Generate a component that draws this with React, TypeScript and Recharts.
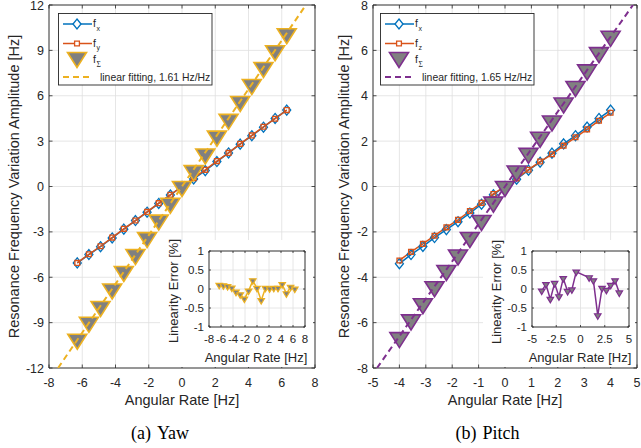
import React from "react";
import {
  CartesianGrid,
  ComposedChart,
  Line,
  LineChart,
  ReferenceArea,
  XAxis,
  YAxis,
} from "recharts";

// ---- (a) Yaw ----
const yawRate = [-6.3, -5.6, -4.9, -4.2, -3.5, -2.8, -2.1, -1.4, -0.7, 0, 0.7, 1.4, 2.1, 2.8, 3.5, 4.2, 4.9, 5.6, 6.3];
const yawFx = [-5.05, -4.5, -3.98, -3.4, -2.82, -2.25, -1.7, -1.12, -0.56, 0.0, 0.5, 1.05, 1.65, 2.22, 2.8, 3.36, 3.92, 4.5, 5.05];
const yawFy = [-5.05, -4.48, -3.95, -3.38, -2.8, -2.25, -1.68, -1.1, -0.55, 0.0, 0.55, 1.1, 1.68, 2.22, 2.82, 3.38, 3.95, 4.48, 5.05];
const yawFsum = [-10.1, -8.98, -7.93, -6.78, -5.62, -4.5, -3.38, -2.22, -1.11, 0.0, 1.05, 2.15, 3.33, 4.44, 5.62, 6.74, 7.87, 8.98, 10.1];
const yawSlope = 1.61;
const yawErr = [0.1, 0.09, 0.07, 0.03, -0.08, -0.15, -0.26, -0.05, 0.22, 0.02, -0.3, 0.02, 0.01, 0.02, 0.02, 0.12, -0.12, 0.05, 0.0];

// ---- (b) Pitch ----
const pitchRate = [-4, -3.56, -3.11, -2.67, -2.22, -1.78, -1.33, -0.89, -0.44, 0, 0.44, 0.89, 1.33, 1.78, 2.22, 2.67, 3.11, 3.56, 4];
const pitchFx = [-3.4, -3.0, -2.64, -2.25, -1.9, -1.55, -1.17, -0.78, -0.36, 0.0, 0.32, 0.72, 1.07, 1.47, 1.88, 2.24, 2.62, 3.0, 3.37];
const pitchFz = [-3.26, -2.88, -2.53, -2.17, -1.8, -1.47, -1.08, -0.72, -0.33, 0.0, 0.36, 0.74, 1.1, 1.42, 1.8, 2.17, 2.52, 2.9, 3.25];
const pitchFsum = [-6.66, -5.88, -5.17, -4.42, -3.7, -3.02, -2.25, -1.5, -0.69, 0.0, 0.68, 1.46, 2.17, 2.89, 3.68, 4.41, 5.14, 5.9, 6.62];
const pitchSlope = 1.65;
const pitchErrRate = [-4, -3.56, -3.11, -2.67, -2.22, -1.78, -1.33, -0.89, -0.44, 0.89, 1.33, 1.78, 2.22, 2.67, 3.11, 3.56, 4];
const pitchErr = [-0.05, 0.12, -0.27, 0.15, -0.2, 0.28, -0.06, -0.02, 0.45, 0.3, 0.22, -0.7, 0.02, -0.03, 0.1, 0.22, -0.1];

// ---- ticks ----
const yawXTicks = [-8, -6, -4, -2, 0, 2, 4, 6, 8];
const yawYTicks = [-12, -9, -6, -3, 0, 3, 6, 9, 12];
const pitchXTicks = [-5, -4, -3, -2, -1, 0, 1, 2, 3, 4, 5];
const pitchYTicks = [-8, -6, -4, -2, 0, 2, 4, 6, 8];
const insetYawXTicks = [-8, -6, -4, -2, 0, 2, 4, 6, 8];
const insetPitchXTicks = [-5, -2.5, 0, 2.5, 5];
const insetYTicks = [-1, -0.5, 0, 0.5, 1];

const BLUE = "#0072BD";
const ORANGE = "#D95319";
const YELLOW = "#EDB120";
const PURPLE = "#7E2F8E";
const GREY = "#808080";
const INK = "#262626";
const GRID = "#e0e0e0";
const SANS = '"Liberation Sans", Arial, Helvetica, sans-serif';
const SERIF = '"Liberation Serif", "Times New Roman", serif';

type Frame = { left: number; right: number; top: number; bottom: number };

// marker shapes
const diamondPath = (cx: number, cy: number, w = 4, h = 5) =>
  `M${cx},${cy - h}L${cx + w},${cy}L${cx},${cy + h}L${cx - w},${cy}Z`;
const squarePath = (cx: number, cy: number, r = 2.4) =>
  `M${cx - r},${cy - r}H${cx + r}V${cy + r}H${cx - r}Z`;
// downward triangle, centroid on the point
const triPath = (cx: number, cy: number, w: number, h: number) =>
  `M${cx - w / 2},${cy - h / 3}L${cx + w / 2},${cy - h / 3}L${cx},${cy + (2 * h) / 3}Z`;

const ok = (p: any) => p.cx != null && p.cy != null && !isNaN(p.cx) && !isNaN(p.cy) && p.value != null;

const diamondDot = (p: any) =>
  ok(p) ? (
    <path key={p.index} d={diamondPath(p.cx, p.cy)} fill="none" stroke={BLUE} strokeWidth={1.3} />
  ) : (
    <g key={p.index} />
  );
const squareDot = (p: any) =>
  ok(p) ? (
    <path key={p.index} d={squarePath(p.cx, p.cy)} fill="none" stroke={ORANGE} strokeWidth={1.3} />
  ) : (
    <g key={p.index} />
  );
const bigTri = (edge: string) => (p: any) =>
  ok(p) ? (
    <path key={p.index} d={triPath(p.cx, p.cy, 19, 15)} fill={GREY} stroke={edge} strokeWidth={1.6} />
  ) : (
    <g key={p.index} />
  );
const smallTri = (edge: string) => (p: any) =>
  ok(p) ? (
    <path key={p.index} d={triPath(p.cx, p.cy, 6.5, 5.5)} fill={GREY} stroke={edge} strokeWidth={1.2} />
  ) : (
    <g key={p.index} />
  );

// MATLAB-style ticks: labels outside, short tick marks inside on both sides
const xTick = (f: Frame, size: number, gap: number, len: number) => (p: any) => (
  <g>
    <line x1={p.x} x2={p.x} y1={f.bottom} y2={f.bottom - len} stroke={INK} strokeWidth={0.8} />
    <line x1={p.x} x2={p.x} y1={f.top} y2={f.top + len} stroke={INK} strokeWidth={0.8} />
    <text x={p.x} y={f.bottom + gap} textAnchor="middle" fontSize={size} fontFamily={SANS} fill={INK}>
      {p.payload.value}
    </text>
  </g>
);
const yTick = (f: Frame, size: number, gap: number, len: number) => (p: any) => (
  <g>
    <line x1={f.left} x2={f.left + len} y1={p.y} y2={p.y} stroke={INK} strokeWidth={0.8} />
    <line x1={f.right} x2={f.right - len} y1={p.y} y2={p.y} stroke={INK} strokeWidth={0.8} />
    <text x={f.left - gap} y={p.y} dy="0.36em" textAnchor="end" fontSize={size} fontFamily={SANS} fill={INK}>
      {p.payload.value}
    </text>
  </g>
);

const CHART_H = 410;
const PLOT_TOP = 5;
const PLOT_BOTTOM = 368;
const AXIS_W = 49;

type MainProps = {
  left: number;
  width: number;
  marginRight: number;
  rate: number[];
  f1: number[];
  f2: number[];
  fsum: number[];
  slope: number;
  xTicks: number[];
  yTicks: number[];
  edge: string;
};

function MainPanel({ left, width, marginRight, rate, f1, f2, fsum, slope, xTicks, yTicks, edge }: MainProps) {
  const frame = { left: AXIS_W, right: width - marginRight, top: PLOT_TOP, bottom: PLOT_BOTTOM };
  const xd = [xTicks[0], xTicks[xTicks.length - 1]];
  const yd = [yTicks[0], yTicks[yTicks.length - 1]];
  const rows = rate.map((x, i) => ({ x, a: f1[i], b: f2[i], s: fsum[i] }));
  // fitted line across the full y range, drawn in its own layer so it sits above the markers
  const fitRows = [
    { x: yd[0] / slope, fit: yd[0] },
    { x: yd[1] / slope, fit: yd[1] },
  ];
  return (
    <div style={{ position: "absolute", left, top: 0, width, height: CHART_H }}>
      <ComposedChart width={width} height={CHART_H} data={rows} margin={{ top: PLOT_TOP, right: marginRight, bottom: 0, left: 0 }}>
        <CartesianGrid stroke={GRID} strokeWidth={0.8} />
        <XAxis
          dataKey="x"
          type="number"
          domain={xd}
          ticks={xTicks}
          interval={0}
          allowDataOverflow
          height={CHART_H - PLOT_BOTTOM}
          tickSize={0}
          tickLine={false}
          axisLine={false}
          tick={xTick(frame, 12.5, 18.5, 3.5)}
        />
        <YAxis
          type="number"
          domain={yd}
          ticks={yTicks}
          interval={0}
          allowDataOverflow
          width={AXIS_W}
          tickSize={0}
          tickLine={false}
          axisLine={false}
          tick={yTick(frame, 12.5, 5, 3.5)}
        />
        <ReferenceArea x1={xd[0]} x2={xd[1]} y1={yd[0]} y2={yd[1]} fill="none" fillOpacity={0} stroke={INK} strokeWidth={0.9} />
        <Line dataKey="a" stroke={BLUE} strokeWidth={1.5} dot={diamondDot} activeDot={false} isAnimationActive={false} />
        <Line dataKey="b" stroke={ORANGE} strokeWidth={1.5} dot={squareDot} activeDot={false} isAnimationActive={false} />
        <Line dataKey="s" stroke="none" dot={bigTri(edge)} activeDot={false} isAnimationActive={false} />
      </ComposedChart>
      <div style={{ position: "absolute", left: 0, top: 0 }}>
        <ComposedChart
          width={width}
          height={CHART_H}
          data={fitRows}
          margin={{ top: PLOT_TOP, right: marginRight, bottom: CHART_H - PLOT_BOTTOM, left: AXIS_W }}
        >
          <XAxis dataKey="x" type="number" domain={xd} allowDataOverflow hide />
          <YAxis type="number" domain={yd} allowDataOverflow hide />
          <Line
            dataKey="fit"
            stroke={edge}
            strokeWidth={2}
            strokeDasharray="6 4"
            dot={false}
            activeDot={false}
            isAnimationActive={false}
          />
        </ComposedChart>
      </div>
    </div>
  );
}

const INSET_TOP = 240;
const INSET_H = 127;
const INSET_PLOT_TOP = 11;
const INSET_PLOT_BOTTOM = 87;

type InsetProps = {
  left: number;
  width: number;
  marginRight: number;
  rate: number[];
  err: number[];
  xTicks: number[];
  color: string;
};

function InsetPanel({ left, width, marginRight, rate, err, xTicks, color }: InsetProps) {
  const frame = { left: AXIS_W, right: width - marginRight, top: INSET_PLOT_TOP, bottom: INSET_PLOT_BOTTOM };
  const rows = rate.map((x, i) => ({ x, e: err[i] }));
  const xd = [xTicks[0], xTicks[xTicks.length - 1]];
  return (
    <div style={{ position: "absolute", left, top: INSET_TOP, width, height: INSET_H, background: "#fff" }}>
      <LineChart width={width} height={INSET_H} data={rows} margin={{ top: INSET_PLOT_TOP, right: marginRight, bottom: 0, left: 0 }}>
        <CartesianGrid stroke={GRID} strokeWidth={0.8} />
        <XAxis
          dataKey="x"
          type="number"
          domain={xd}
          ticks={xTicks}
          interval={0}
          allowDataOverflow
          height={INSET_H - INSET_PLOT_BOTTOM}
          tickSize={0}
          tickLine={false}
          axisLine={false}
          tick={xTick(frame, 11.5, 16, 2)}
        />
        <YAxis
          type="number"
          domain={[-1, 1]}
          ticks={insetYTicks}
          interval={0}
          allowDataOverflow
          width={AXIS_W}
          tickSize={0}
          tickLine={false}
          axisLine={false}
          tick={yTick(frame, 11.5, 5, 2)}
        />
        <ReferenceArea x1={xd[0]} x2={xd[1]} y1={-1} y2={1} fill="none" fillOpacity={0} stroke={INK} strokeWidth={0.9} />
        <Line dataKey="e" stroke={color} strokeWidth={1.5} dot={smallTri(color)} activeDot={false} isAnimationActive={false} />
      </LineChart>
    </div>
  );
}

function Legend({ dx, second, edge, fitText }: { dx: number; second: string; edge: string; fitText: string }) {
  const mx = 77 + dx;
  return (
    <g fontFamily={SANS} fill={INK}>
      <rect x={58.5 + dx} y={13.5} width={153.5} height={71.5} fill="#fff" stroke={INK} strokeWidth={0.9} />
      <line x1={63 + dx} x2={92 + dx} y1={24} y2={24} stroke={BLUE} strokeWidth={1.5} />
      <path d={diamondPath(mx, 24)} fill="#fff" stroke={BLUE} strokeWidth={1.3} />
      <text x={93 + dx} y={27.3} fontSize={10.5}>f</text>
      <text x={96.5 + dx} y={30.7} fontSize={7}>x</text>
      <line x1={63 + dx} x2={92 + dx} y1={43.5} y2={43.5} stroke={ORANGE} strokeWidth={1.5} />
      <path d={squarePath(mx, 43.5)} fill="#fff" stroke={ORANGE} strokeWidth={1.3} />
      <text x={93 + dx} y={47} fontSize={10.5}>f</text>
      <text x={96.5 + dx} y={50} fontSize={7}>{second}</text>
      <path d={triPath(mx, 57.5, 19, 15)} fill={GREY} stroke={edge} strokeWidth={1.6} />
      <text x={93 + dx} y={63.3} fontSize={10.5}>f</text>
      <text x={96.5 + dx} y={66.5} fontSize={7.5} fontFamily={SERIF}>Σ</text>
      <line x1={63 + dx} x2={89 + dx} y1={77} y2={77} stroke={edge} strokeWidth={2} strokeDasharray="6 4" />
      <text x={100 + dx} y={80.5} fontSize={10.4}>{fitText}</text>
    </g>
  );
}

function Labels() {
  const title = { fontFamily: SANS, fill: INK, textAnchor: "middle" as const };
  return (
    <svg width={641} height={448} style={{ position: "absolute", left: 0, top: 0, pointerEvents: "none" }}>
      <Legend dx={0} second="y" edge={YELLOW} fitText="linear fitting, 1.61 Hz/Hz" />
      <Legend dx={322} second="z" edge={PURPLE} fitText="linear fitting, 1.65 Hz/Hz" />

      <text {...title} fontSize={14.5} x={18.7} y={186.5} transform="rotate(-90 18.7 186.5)">
        Resonance Frequency Variation Amplitude [Hz]
      </text>
      <text {...title} fontSize={14.5} x={348.7} y={186.5} transform="rotate(-90 348.7 186.5)">
        Resonance Frequency Variation Amplitude [Hz]
      </text>
      <text {...title} fontSize={14.5} x={182} y={405}>Angular Rate [Hz]</text>
      <text {...title} fontSize={14.5} x={505} y={405}>Angular Rate [Hz]</text>

      <text {...title} fontSize={13} x={177.5} y={291} transform="rotate(-90 177.5 291)">Linearity Error [%]</text>
      <text {...title} fontSize={13} x={501} y={292} transform="rotate(-90 501 292)">Linearity Error [%]</text>
      <text {...title} fontSize={13} x={256} y={362}>Angular Rate [Hz]</text>
      <text {...title} fontSize={13} x={580} y={362}>Angular Rate [Hz]</text>

      <text fontFamily={SERIF} fontSize={18} fill="#000" textAnchor="middle" x={160} y={439}>
        (a)<tspan dx={6}>Yaw</tspan>
      </text>
      <text fontFamily={SERIF} fontSize={18} fill="#000" textAnchor="middle" x={487.5} y={439}>
        (b)<tspan dx={6}>Pitch</tspan>
      </text>
    </svg>
  );
}

export default function App() {
  return (
    <div style={{ position: "absolute", left: 0, top: 0, width: 641, height: 448, background: "#fff", overflow: "hidden" }}>
      <MainPanel
        left={0}
        width={320}
        marginRight={5}
        rate={yawRate}
        f1={yawFx}
        f2={yawFy}
        fsum={yawFsum}
        slope={yawSlope}
        xTicks={yawXTicks}
        yTicks={yawYTicks}
        edge={YELLOW}
      />
      <MainPanel
        left={324}
        width={317}
        marginRight={4}
        rate={pitchRate}
        f1={pitchFx}
        f2={pitchFz}
        fsum={pitchFsum}
        slope={pitchSlope}
        xTicks={pitchXTicks}
        yTicks={pitchYTicks}
        edge={PURPLE}
      />
      <InsetPanel left={160} width={153} marginRight={8} rate={yawRate} err={yawErr} xTicks={insetYawXTicks} color={YELLOW} />
      <InsetPanel left={483} width={152} marginRight={6} rate={pitchErrRate} err={pitchErr} xTicks={insetPitchXTicks} color={PURPLE} />
      <Labels />
    </div>
  );
}
